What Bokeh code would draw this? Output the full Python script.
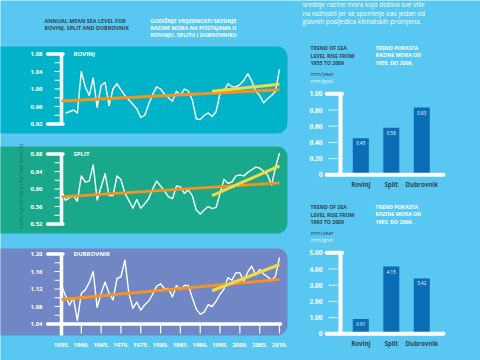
import math
from bokeh.plotting import figure
from bokeh.models import Range1d, BoxAnnotation
from bokeh.embed import file_html
from bokeh.resources import INLINE
from bokeh.core.properties import value

# ---------------- data ----------------
years = list(range(1955, 2011))
rovinj_years = list(range(1956, 2011))
rovinj = [0.945, 0.948, 0.952, 0.945, 1.040,
          1.005, 0.985, 1.025, 0.958, 1.008,
          1.015, 0.962, 1.000, 1.012, 0.998,
          0.985, 0.975, 0.965, 0.955, 0.935,
          0.940, 0.965, 0.988, 1.005, 1.000,
          0.988, 0.980, 0.972, 0.995, 0.985,
          1.000, 0.995, 0.975, 0.932, 0.930,
          0.940, 0.945, 0.937, 0.948, 0.990,
          0.995, 1.012, 1.005, 1.005, 1.010,
          1.020, 1.035, 1.018, 0.995, 0.985,
          0.968, 0.978, 0.985, 0.995, 1.045]
split = [0.597, 0.574, 0.580, 0.585, 0.572,
         0.630, 0.616, 0.618, 0.655, 0.575,
         0.605, 0.635, 0.585, 0.585, 0.630,
         0.621, 0.590, 0.574, 0.556, 0.576,
         0.556, 0.566, 0.578, 0.600, 0.618,
         0.607, 0.595, 0.582, 0.578, 0.607,
         0.605, 0.590, 0.598, 0.585, 0.552,
         0.543, 0.552, 0.560, 0.555, 0.558,
         0.590, 0.622, 0.613, 0.616, 0.630,
         0.632, 0.630, 0.638, 0.644, 0.650,
         0.648, 0.640, 0.632, 0.609, 0.650,
         0.682]
dubrovnik = [1.128, 1.105, 1.083, 1.100, 1.048,
             1.110, 1.118, 1.135, 1.160, 1.078,
             1.110, 1.136, 1.110, 1.095, 1.144,
             1.148, 1.186, 1.110, 1.076, 1.090,
             1.072, 1.084, 1.092, 1.108, 1.126,
             1.132, 1.120, 1.121, 1.102, 1.128,
             1.118, 1.128, 1.128, 1.100, 1.074,
             1.062, 1.067, 1.084, 1.080, 1.092,
             1.108, 1.120, 1.146, 1.140, 1.157,
             1.157, 1.138, 1.159, 1.172, 1.152,
             1.165, 1.154, 1.148, 1.140, 1.150,
             1.192]

trend_long_years = [1955, 2010]
trend_short_years = [1993, 2010]
rovinj_trend_long = [0.9725, 0.9985]
rovinj_trend_short = [0.995, 1.011]
split_trend_long = [0.582, 0.614]
split_trend_short = [0.585, 0.653]
dubrovnik_trend_long = [1.096, 1.142]
dubrovnik_trend_short = [1.116, 1.176]

year_ticks = [1955, 1960, 1965, 1970, 1975, 1980, 1985, 1990, 1995, 2000, 2005, 2010]
year_labels = ["1955.", "1960.", "1965.", "1970.", "1975.", "1980.", "1985.",
               "1990.", "1995.", "2000.", "2005.", "2010."]
rovinj_ticks = [0.92, 0.96, 1.00, 1.04, 1.08]
split_ticks = [0.52, 0.56, 0.60, 0.64, 0.68]
dubrovnik_ticks = [1.04, 1.08, 1.12, 1.16, 1.20]

stations = ["Rovinj", "Split", "Dubrovnik"]
trend_1955_2009 = [0.45, 0.58, 0.83]
trend_1993_2009 = [0.91, 4.15, 3.42]
bar1_ticks = [0, 0.2, 0.4, 0.6, 0.8, 1.0]
bar1_labels = ["0", "0.20", "0.40", "0.60", "0.80", "1.00"]
bar2_ticks = [0, 1, 2, 3, 4, 5]
bar2_labels = ["0", "1.00", "2.00", "3.00", "4.00", "5.00"]

# ---------------- style ----------------
W, H = 480, 360
BG = "#58C8F2"
TEAL = "#00B3C9"
GREEN = "#19A98A"
PURPLE = "#7086C5"
BAR = "#0B6DB5"
ORANGE = "#F7931E"
YELLOW = "#F4D848"
DARK = "#34434E"
FONT = value("Open Sans")


def T(py):
    return H - py


def xr(v0, p0, v1, p1):
    s = (v1 - v0) / (p1 - p0)
    start = v0 - p0 * s
    return Range1d(start, start + W * s)


def yr(v0, p0, v1, p1):
    q0, q1 = H - p0, H - p1
    s = (v1 - v0) / (q1 - q0)
    start = v0 - q0 * s
    return Range1d(start, start + H * s)


p = figure(width=W, height=H, x_range=Range1d(0, W), y_range=Range1d(0, H),
           min_border=0, toolbar_location=None, output_backend="svg",
           x_axis_location=None, y_axis_location=None)
p.outline_line_color = None
p.background_fill_color = BG
p.border_fill_color = BG
p.xgrid.visible = False
p.ygrid.visible = False

p.extra_x_ranges = {"yr": xr(1955, 61, 2010, 279), "cat": xr(0, 360.3, 1, 390.8)}
p.extra_y_ranges = {
    "rov": yr(1.08, 53.5, 0.92, 123.5),
    "spl": yr(0.68, 153.5, 0.52, 223.5),
    "dub": yr(1.20, 253.5, 1.04, 323.5),
    "b1": yr(1.0, 93.3, 0.0, 174.3),
    "b2": yr(5.0, 252.3, 0.0, 333.3),
}


def txt(x, y, s, size, color=DARK, bold=True, align="left", **kw):
    p.text(x=x, y=y, text=s, text_font=FONT, text_font_size=size,
           text_font_style="bold" if bold else "normal", text_color=color,
           text_align=align, text_baseline="middle", **kw)


# panels
for top, bottom, col in [(46, 133, TEAL), (146, 233, GREEN), (248, 335, PURPLE)]:
    p.add_layout(BoxAnnotation(left=-20, right=287, top=T(top), bottom=T(bottom),
                               fill_color=col, fill_alpha=1, line_color=None,
                               border_radius=10, level="underlay"))

# header texts
txt([44, 44], [T(20.7), T(27.7)],
    ["ANNUAL MEAN SEA LEVEL FOR", "ROVINJ, SPLIT AND DUBROVNIK"], "5.4px")
txt([150, 150, 150], [T(20.7), T(27.7), T(34.7)],
    ["GODIŠNJE VRIJEDNOSTI SREDNJE", "RAZINE MORA NA POSTAJAMA U",
     "ROVINJU, SPLITU I DUBROVNIKU"], "5.4px", color="white")
txt([302, 302, 302], [T(3.5), T(12.5), T(21)],
    ["srednje razine mora koja dobiva sve više",
     "na važnosti jer se spominje kao jedan od",
     "glavnih posljedica klimatskih promjena."], "6.5px", color="white", bold=False)

# rotated axis title
txt([20], [T(186)], ["visina razine mora [m] / sea level (m)"], "5px",
    color=DARK, bold=False, align="center", angle=math.pi / 2, text_alpha=0.7)

# time series panels
panels = [
    ("rov", "ROVINJ", rovinj_years, rovinj, rovinj_ticks, rovinj_trend_long, rovinj_trend_short),
    ("spl", "SPLIT", years, split, split_ticks, split_trend_long, split_trend_short),
    ("dub", "DUBROVNIK", years, dubrovnik, dubrovnik_ticks, dubrovnik_trend_long, dubrovnik_trend_short),
]
for name, title, yrs, vals, ticks, tl, ts in panels:
    lo, hi = ticks[0], ticks[-1]
    txt([42] * len(ticks), ticks, ["%.2f" % t for t in ticks], "6px", color="white",
        align="right", y_range_name=name)
    minor = [round(lo + 0.02 * i, 2) for i in range(1, 8)]
    p.segment(x0=[54] * len(minor), x1=[61] * len(minor), y0=minor, y1=minor,
              y_range_name=name, line_color="white", line_width=1)
    p.segment(x0=[61], x1=[61], y0=[lo], y1=[hi], y_range_name=name,
              line_color="white", line_width=3.5)
    p.segment(x0=[47], x1=[62.5], y0=[hi], y1=[hi], y_range_name=name,
              line_color="white", line_width=3.5, line_cap="round")
    if name != "dub":
        p.segment(x0=[47], x1=[62.5], y0=[lo], y1=[lo], y_range_name=name,
                  line_color="white", line_width=3.5, line_cap="round")
    txt([73], [hi], [title], "6px", color="white", y_range_name=name)
    p.line(yrs, vals, x_range_name="yr", y_range_name=name, line_color="white",
           line_width=1.4, line_join="round")
    p.line(trend_long_years, tl, x_range_name="yr", y_range_name=name,
           line_color=ORANGE, line_width=3)
    p.line(trend_short_years, ts, x_range_name="yr", y_range_name=name,
           line_color=YELLOW, line_width=3)

# Dubrovnik x axis
lo = dubrovnik_ticks[0]
p.segment(x0=[61], x1=[61], y0=[T(323.5)], y1=[T(335)], line_color="white", line_width=3.5)
p.segment(x0=[47], x1=[280], y0=[lo], y1=[lo], y_range_name="dub",
          line_color="white", line_width=3.5, line_cap="round")
p.segment(x0=year_ticks[1:], x1=year_ticks[1:], y0=[T(323.5)] * 11, y1=[T(333)] * 11,
          x_range_name="yr", line_color="white", line_width=1.2)
txt(year_ticks, [T(344)] * len(year_ticks), year_labels, "6px", color="white",
    align="center", x_range_name="yr")

# bar charts
idx = [0, 1, 2]
blocks = [
    ("b1", 0, trend_1955_2009, bar1_ticks, bar1_labels, ["TREND OF SEA", "LEVEL RISE FROM", "1955 TO 2009"],
     ["TREND PORASTA", "RAZINE MORA OD", "1955. DO 2009."]),
    ("b2", 159, trend_1993_2009, bar2_ticks, bar2_labels, ["TREND OF SEA", "LEVEL RISE FROM", "1993 TO 2009"],
     ["TREND PORASTA", "RAZINE MORA OD", "1993. DO 2009."]),
]
for name, dy, vals, ticks, labels, en, hr in blocks:
    txt([310] * 3, [T(47.5 + dy), T(55 + dy), T(62.5 + dy)], en, "5.2px")
    txt([375] * 3, [T(47 + dy), T(54.5 + dy), T(62 + dy)], hr, "5.2px", color="white")
    txt([310], [T(73.3 + dy)], ["mm/year"], "5.5px", bold=False)
    txt([310], [T(80.7 + dy)], ["mm/god."], "5.5px", color="#E4F4FB", bold=False)
    lo, hi = ticks[0], ticks[-1]
    txt([322] * len(ticks), ticks, labels, "6.5px", color="white", align="right",
        y_range_name=name)
    p.segment(x0=[328] * (len(ticks) - 2), x1=[337] * (len(ticks) - 2), y0=ticks[1:-1],
              y1=ticks[1:-1], y_range_name=name, line_color="white", line_width=1,
              line_alpha=0.8)
    p.vbar(x=idx, top=vals, bottom=0, width=0.525, x_range_name="cat", y_range_name=name,
           fill_color=BAR, line_color=None)
    p.segment(x0=[340], x1=[340], y0=[lo], y1=[hi], y_range_name=name,
              line_color="white", line_width=4)
    p.segment(x0=[326], x1=[341.5], y0=[hi], y1=[hi], y_range_name=name,
              line_color="white", line_width=4, line_cap="round")
    p.segment(x0=[326], x1=[443], y0=[lo], y1=[lo], y_range_name=name,
              line_color="white", line_width=4, line_cap="round")
    txt(idx, vals, ["%.2f" % v for v in vals], "4.5px", color="white", bold=False,
        align="center", x_range_name="cat", y_range_name=name, y_offset=5)
    txt(idx, [0] * 3, stations, "6.2px", align="center", x_range_name="cat",
        y_range_name=name, y_offset=10)

html = file_html(p, INLINE, title="Sea level")
html = html.replace("<body>", '<body style="margin:0;background:%s;overflow:hidden">' % BG, 1)
open("out.html", "w").write(html)
